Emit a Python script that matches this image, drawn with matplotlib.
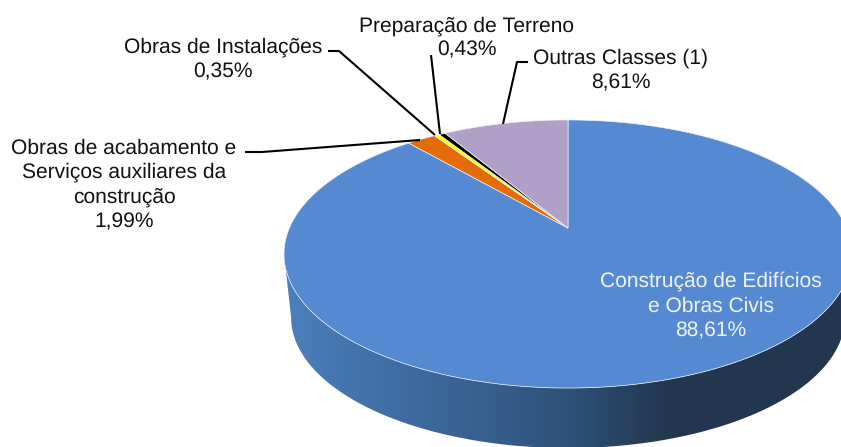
import numpy as np
import matplotlib.pyplot as plt
from matplotlib.colors import LinearSegmentedColormap
from matplotlib.patches import Polygon

plt.rcParams['font.family'] = ['Liberation Sans', 'DejaVu Sans']
plt.rcParams['text.hinting'] = 'no_hinting'
plt.rcParams['text.hinting_factor'] = 1

# clockwise from 12 o'clock
labels = ['Construção de Edifícios\ne Obras Civis', 'Obras de acabamento e\nServiços auxiliares da\nconstrução',
          'Obras de Instalações', 'Preparação de Terreno', 'Outras Classes (1)']
values = [88.61, 1.99, 0.35, 0.43, 8.61]
value_labels = ['88,61%', '1,99%', '0,35%', '0,43%', '8,61%']
colors = ['#558ad3', '#e36c09', '#ffff00', '#000000', '#b09fc6']
text_pos = [(711, 306), (124, 185), (223, 59.5), (467, 38), (621, 71)]
leaders = [None,
           [(245, 152), (262, 152), (420, 140)],
           [(328, 51), (339, 51), (435, 135)],
           [(431, 55), (440, 134)],
           [(528, 62), (517, 62), (503, 124)]]

# perspective disc, pixel coordinates
cx, cy, a, b, k = 568, 228, 129.0, 278.6, 0.194


def disc(theta, scale=1.0, dy=0.0):
    # theta clockwise from the top of the disc
    u, v = np.sin(theta), np.cos(theta)
    w = 1 + k*v
    return cx + scale*b*u/w, cy + dy - scale*a*v/w


fig = plt.figure(figsize=(8.41, 4.47), dpi=100)
ax = fig.add_axes([0, 0, 1, 1])
ax.axis('off')

# side wall with horizontal gradient, between the widest points of the two discs
t = np.linspace(np.pi/2 + np.arcsin(k), 3*np.pi/2 - np.arcsin(k), 200)
ux, uy = disc(t)
lx, ly = disc(t[::-1], 0.975, 64)
wall = Polygon(np.column_stack([np.r_[ux, lx], np.r_[uy, ly]]), closed=True, fc='none', ec='none')
ax.add_patch(wall)
cmap = LinearSegmentedColormap.from_list('wall', [(0, '#4b7fbe'), (0.5, '#2f5179'), (0.67, '#23374f'), (1, '#22364f')])
img = ax.imshow(np.linspace(0, 1, 256).reshape(1, -1), cmap=cmap, extent=(284, 852, 447, 250), aspect='auto', zorder=1)
img.set_clip_path(wall)
ax.set_xlim(0, 841)
ax.set_ylim(447, 0)

# top of the pie
edges = np.r_[0, np.cumsum(values)]/sum(values)*2*np.pi
for i in range(len(values)):
    t = np.linspace(edges[i], edges[i+1], 300)
    x, y = disc(t)
    ax.fill(np.r_[cx, x], np.r_[cy, y], fc=colors[i], ec='#eef2fa', lw=0.5, zorder=2)

for i in range(len(values)):
    if leaders[i] is not None:
        px, py = zip(*leaders[i])
        ax.plot(px, py, color='black', lw=1.5, zorder=3, solid_capstyle='butt')
    ax.text(text_pos[i][0], text_pos[i][1], labels[i] + '\n' + value_labels[i], ha='center', va='center',
            fontsize=15.3, linespacing=1.33, color='#f2f2f2' if i == 0 else '#111111', zorder=4)

fig.savefig('out.png', dpi=100)
